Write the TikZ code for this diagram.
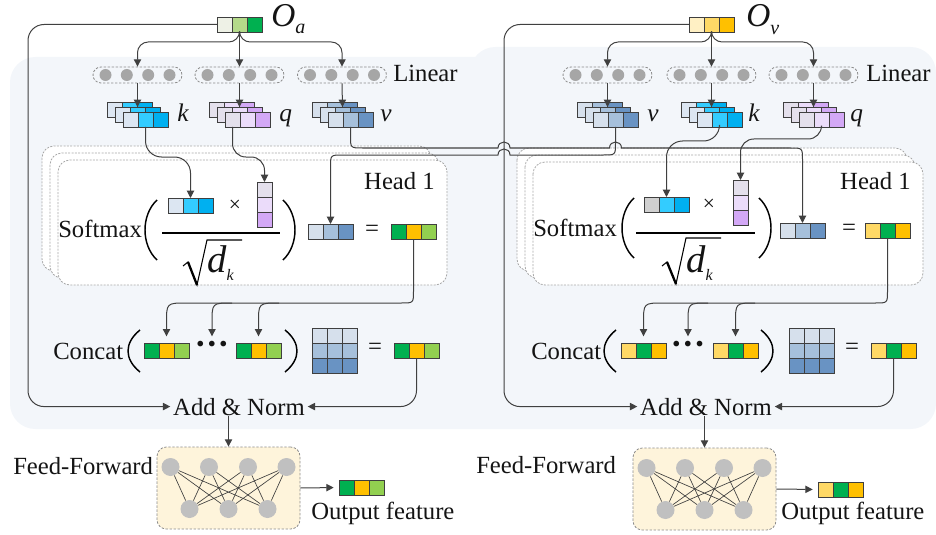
\documentclass[tikz,border=0pt]{standalone}
\usepackage{fontspec}
\setmainfont{Liberation Serif}
\usetikzlibrary{arrows.meta}
\definecolor{bgc}{HTML}{F3F6FA}
\definecolor{linec}{HTML}{404040}
\definecolor{cellb}{HTML}{3F3F3F}
\definecolor{kA}{HTML}{DCE6F2}
\definecolor{kB}{HTML}{33CCFF}
\definecolor{kC}{HTML}{00B0F0}
\definecolor{qA}{HTML}{E4E0EC}
\definecolor{qB}{HTML}{EBDCFA}
\definecolor{qC}{HTML}{D3A8F6}
\definecolor{vA}{HTML}{D6E0EC}
\definecolor{vB}{HTML}{A6C0DB}
\definecolor{vC}{HTML}{6993C3}
\definecolor{gA}{HTML}{00B050}
\definecolor{oA}{HTML}{FFC000}
\definecolor{lgA}{HTML}{92D050}
\definecolor{yA}{HTML}{FFD966}
\definecolor{oaA}{HTML}{EEF1E6}
\definecolor{oaB}{HTML}{B4DA8A}
\definecolor{ovA}{HTML}{FFF0C4}
\definecolor{kgray}{HTML}{D0D0D0}
\definecolor{dotc}{HTML}{A6A6A6}
\definecolor{ffc}{HTML}{FEF4DB}
\definecolor{ffdot}{HTML}{C0C0C0}
\definecolor{dashc}{HTML}{8C8C8C}
\definecolor{headc}{HTML}{A8A8A8}
\definecolor{txt}{HTML}{141414}
\tikzset{
 every node/.style={text=txt},
 conn/.style={draw=linec, line width=0.75pt},
 arr/.style={conn, -{Triangle[length=5.5pt,width=5.5pt]}},
 cell/.style={draw=cellb, line width=0.55pt, minimum width=11.25pt, minimum height=11.25pt, inner sep=0pt, outer sep=0pt},
 lin/.style={draw=dashc, line width=0.6pt, dash pattern=on 1.8pt off 1.2pt, rounded corners=6pt, minimum width=66.75pt, minimum height=12pt, inner sep=0pt},
 ldot/.style={circle, fill=dotc, minimum size=9pt, inner sep=0pt},
 fdot/.style={circle, fill=ffdot, minimum size=13.5pt, inner sep=0pt},
 ffbox/.style={draw=dashc, line width=0.6pt, dash pattern=on 1.8pt off 1.2pt, fill=ffc, rounded corners=7pt, minimum width=107.25pt, minimum height=61.5pt, inner sep=0pt},
 headbox/.style={draw=headc, line width=0.6pt, dash pattern=on 1.5pt off 1pt, fill=white, rounded corners=9pt},
 lbl/.style={font=\fontsize{18.5pt}{20pt}\selectfont, inner sep=0pt},
 dotsl/.style={font=\fontsize{26pt}{26pt}\selectfont\bfseries, inner sep=0pt},
 var/.style={font=\fontsize{19pt}{20pt}\selectfont\itshape, inner sep=0pt},
 bigO/.style={font=\fontsize{25pt}{26pt}\selectfont\itshape, inner sep=0pt},
 dk/.style={font=\fontsize{29pt}{30pt}\selectfont\itshape, inner sep=0pt},
 paren/.style={draw=black, line width=1.1pt},
 ffl/.style={draw=linec, line width=0.5pt},
}
\newcommand\vrow[6]{%
  \node[cell,fill=#4] (#1-1) at ({#2+7.5},{#3+7.5}) {};
  \node[cell,fill=#5] (#1-2) at ({#2+22.5},{#3+7.5}) {};
  \node[cell,fill=#6] (#1-3) at ({#2+37.5},{#3+7.5}) {};}
\newcommand\vcol[6]{%
  \node[cell,fill=#4] (#1-1) at ({#2+7.5},{#3+7.5}) {};
  \node[cell,fill=#5] (#1-2) at ({#2+7.5},{#3+22.5}) {};
  \node[cell,fill=#6] (#1-3) at ({#2+7.5},{#3+37.5}) {};}
\newcommand\vstack[6]{%
  \vrow{#1-b}{#2-16}{#3-10}{#4}{#5}{#6}
  \vrow{#1-m}{#2-8}{#3-5}{#4}{#5}{#6}
  \vrow{#1-f}{#2}{#3}{#4}{#5}{#6}}
\newcommand\linear[3]{%
  \node[lin] (#1) at (#2,#3) {};
  \foreach \k/\dx in {1/-32,2/-10.7,3/10.7,4/32} {\node[ldot] (#1-d\k) at ({#2+\dx},#3) {};}}
\newcommand\ffnet[3]{%
  \node[ffbox] (#1) at (#2,#3) {};
  \foreach \i/\dx in {1/-58,2/-19.5,3/19.5,4/58} {\node[fdot] (#1-t\i) at ({#2+\dx},{#3-21}) {};}
  \foreach \j/\dx in {1/-39,2/0,3/39} {\node[fdot] (#1-b\j) at ({#2+\dx},{#3+21}) {};}
  \foreach \i in {1,...,4} {\foreach \j in {1,2,3} {\draw[ffl] (#1-t\i) -- (#1-b\j);}}}
\newcommand\vmatrix[3]{%
  \vrow{#1-r1}{#2}{#3}{vA}{vA}{vA}
  \vrow{#1-r2}{#2}{#3+15}{vB}{vB}{vB}
  \vrow{#1-r3}{#2}{#3+30}{vC}{vC}{vC}}
\begin{document}
\begin{tikzpicture}[x=0.75pt,y=-0.75pt]
\useasboundingbox (0,0) rectangle (936,535);
% background panel
\fill[bgc, rounded corners=19pt] (10,57) rectangle (936,429);
\fill[bgc, rounded corners=19pt] (470,47) rectangle (936,120);
% head boxes
\draw[headbox] (42,146) rectangle (431,271);
\draw[headbox] (50,153) rectangle (439,278);
\draw[headbox] (58,160) rectangle (447,285);
\draw[headbox] (517,148) rectangle (907,271);
\draw[headbox] (525,155) rectangle (915,278);
\draw[headbox] (533,162) rectangle (923,285);

% ================= LEFT PANEL =================
\vrow{oa}{217}{17}{oaA}{oaB}{gA}
\node[bigO, anchor=base west] (Oa) at (271,27) {O\raisebox{-5pt}{\fontsize{15pt}{15pt}\selectfont a}};
\linear{la1}{137.5}{75}
\linear{la2}{239.5}{75}
\linear{la3}{342}{75}
\node[lbl, anchor=base west] (linA) at (393,82) {Linear};
\draw[arr, rounded corners=8pt] (oa-2.south) -- (239.5,42) -| (la1.north);
\draw[arr] (oa-2.south) -- (la2.north);
\draw[arr, rounded corners=8pt] (oa-2.south) -- (239.5,42) -| (la3.north);
\vstack{ka}{123}{112}{kA}{kB}{kC}
\vstack{qa}{225}{112}{qA}{qB}{qC}
\vstack{va}{328}{112}{vA}{vB}{vC}
\node[var, anchor=base west] (kla) at (177,122) {k};
\node[var, anchor=base west] (qla) at (279,122) {q};
\node[var, anchor=base west] (vla) at (380,122) {v};
\draw[arr] (la1.south) -- (ka-m-2.north);
\draw[arr] (la2.south) -- (qa-m-2.north);
\draw[arr] (la3.south) -- (va-m-2.north);
% head (left)
\node[lbl, anchor=base west] (softa) at (58,237) {Softmax};
\node[lbl, anchor=base east] (heada) at (435,189) {Head 1};
\vrow{nka}{168}{198}{kA}{kB}{kC}
\node[font=\fontsize{16pt}{16pt}\selectfont, inner sep=0pt] (xa) at (235,206) {×};
\vcol{nqa}{257}{182}{qA}{qB}{qC}
\draw[paren] (157,200) .. controls (141,215) and (141,245) .. (157,260);
\draw[paren] (283,200) .. controls (299,215) and (299,245) .. (283,260);
\draw[line width=1.1pt] (162,233) -- (280,233);
\draw[line width=0.8pt] (183,266) -- (188,262) -- (197,285) -- (207,240) -- (242,240);
\draw[line width=1.7pt] (188,262) -- (197,285);
\node[dk, anchor=base west] (dka) at (207,272) {d\raisebox{-6pt}{\fontsize{12pt}{12pt}\selectfont k}};
\vrow{nva}{308}{224}{vA}{vB}{vC}
\node[lbl] (eqa) at (372,231) {=};
\vrow{ra}{391}{224}{gA}{oA}{lgA}
\draw[arr, rounded corners=12pt] (ka-f-2.south) -- (145.5,157) -| (nka-2.north);
\draw[arr, rounded corners=10pt] (qa-f-1.south) -- (232.5,157) -| (nqa-1.north);
% concat (left)
\node[lbl, anchor=base west] (conca) at (53,359) {Concat};
\draw[paren] (140,330) .. controls (124,343) and (124,359) .. (140,372);
\draw[paren] (285,330) .. controls (301,343) and (301,359) .. (285,372);
\vrow{ca1}{144}{343}{gA}{oA}{lgA}
\node[dotsl] (dotsa) at (212,348) {···};
\vrow{ca2}{236}{343}{gA}{oA}{lgA}
\vmatrix{ma}{312}{328}
\node[lbl] (eqa2) at (375,349) {=};
\vrow{cca}{394}{343}{gA}{oA}{lgA}
\coordinate (bra) at (232,303);
\coordinate (brb) at (279,303);
\draw[arr, shorten >=5pt] (ra-2.south) -- (413.5,291) .. controls (413.5,303) .. (401.5,303) -- (186.5,303) .. controls (166.5,303) .. (166.5,323) -- (ca1-2.north);
\draw[arr, shorten >=5pt] (bra) .. controls (212,303) .. (212,323) -- (dotsa.center |- ca1-2.north);
\draw[arr, shorten >=5pt] (brb) .. controls (258.5,303) .. (258.5,323) -- (ca2-2.north);
% add & norm (left)
\node[lbl, anchor=base] (ana) at (239,415) {Add \& Norm};
\draw[arr, rounded corners=12pt, shorten >=2pt] (oa-1.west) -- (28,24.5) |- (ana.west);
\draw[arr, rounded corners=12pt, shorten >=2pt] (cca-2.south) |- (ana.east);
% feed forward (left)
\ffnet{ffa}{228.5}{488}
\draw[arr] (ffa.north |- ana.south) -- (ffa.north);
\node[lbl, anchor=base west] (ffla) at (13,474) {Feed-Forward};
\vrow{outa}{339}{480}{gA}{oA}{lgA}
\draw[arr, shorten >=4pt] (ffa.east) -- (outa-1.west);
\node[lbl, anchor=base west] (ofa) at (311,519) {Output feature};

% ================= RIGHT PANEL =================
\vrow{ov}{689}{17}{ovA}{yA}{oA}
\node[bigO, anchor=base west] (Ov) at (746,27) {O\raisebox{-6pt}{\fontsize{15pt}{15pt}\selectfont v}};
\linear{lv1}{607.5}{75}
\linear{lv2}{711.5}{75}
\linear{lv3}{813.5}{75}
\node[lbl, anchor=base west] (linV) at (866,82) {Linear};
\draw[arr, rounded corners=8pt] (ov-2.south) -- (711.5,42) -| (lv1.north);
\draw[arr] (ov-2.south) -- (lv2.north);
\draw[arr, rounded corners=8pt] (ov-2.south) -- (711.5,42) -| (lv3.north);
\vstack{vv}{593}{112}{vA}{vB}{vC}
\vstack{kv}{697}{112}{kA}{kB}{kC}
\vstack{qv}{799}{112}{qA}{qB}{qC}
\node[var, anchor=base west] (vlv) at (647,122) {v};
\node[var, anchor=base west] (klv) at (748,122) {k};
\node[var, anchor=base west] (qlv) at (850,122) {q};
\draw[arr] (lv1.south) -- (vv-m-2.north);
\draw[arr] (lv2.south) -- (kv-m-2.north);
\draw[arr] (lv3.south) -- (qv-m-2.north);
% head (right)
\node[lbl, anchor=base west] (softv) at (533,236) {Softmax};
\node[lbl, anchor=base east] (headv) at (911,189) {Head 1};
\vrow{nkv}{644}{197}{kgray}{kB}{kC}
\node[font=\fontsize{16pt}{16pt}\selectfont, inner sep=0pt] (xv) at (709,205) {×};
\vcol{nqv}{733}{180}{qA}{qB}{qC}
\draw[paren] (634,198) .. controls (618,213) and (618,243) .. (634,258);
\draw[paren] (759,198) .. controls (775,213) and (775,243) .. (759,258);
\draw[line width=1.1pt] (636,233) -- (755,233);
\draw[line width=0.8pt] (662,266) -- (667,262) -- (676,284) -- (686,238) -- (721,238);
\draw[line width=1.7pt] (667,262) -- (676,284);
\node[dk, anchor=base west] (dkv) at (686,272) {d\raisebox{-6pt}{\fontsize{12pt}{12pt}\selectfont k}};
\vrow{nvv}{780}{223}{vA}{vB}{vC}
\node[lbl] (eqv) at (849,230) {=};
\vrow{rv}{865}{223}{yA}{gA}{oA}
\draw[arr, rounded corners=12pt] (kv-f-2.south) -- (719.5,141) -| (nkv-2.north);
\draw[arr, rounded corners=10pt] (qv-f-2.south) -- (821.5,139) -| (nqv-1.north);
% crossing value paths
\draw[arr] (va-f-2.south) -- (350.5,136) .. controls (350.5,148) .. (362.5,148) -- (498,148) .. controls (498,140) and (510,140) .. (510,148) -- (609.5,148) .. controls (609.5,140) and (621.5,140) .. (621.5,148) -- (790.5,148) .. controls (802.5,148) .. (802.5,160) -- (nvv-2.north);
\draw[arr] (vv-f-2.south) -- (615.5,143) .. controls (615.5,155) .. (603.5,155) -- (510,155) .. controls (510,147) and (498,147) .. (498,155) -- (342.5,155) .. controls (330.5,155) .. (330.5,167) -- (nva-2.north);
% concat (right)
\node[lbl, anchor=base west] (concv) at (531,359) {Concat};
\draw[paren] (616,330) .. controls (600,343) and (600,359) .. (616,372);
\draw[paren] (761,330) .. controls (777,343) and (777,359) .. (761,372);
\vrow{cv1}{621}{343}{yA}{gA}{oA}
\node[dotsl] (dotsv) at (688,348) {···};
\vrow{cv2}{713}{343}{yA}{gA}{oA}
\vmatrix{mv}{789}{328}
\node[lbl] (eqv2) at (852,349) {=};
\vrow{ccv}{871}{343}{yA}{gA}{oA}
\coordinate (brva) at (708,303);
\coordinate (brvb) at (755,303);
\draw[arr, shorten >=5pt] (rv-2.south) -- (887.5,291) .. controls (887.5,303) .. (875.5,303) -- (663.5,303) .. controls (643.5,303) .. (643.5,323) -- (cv1-2.north);
\draw[arr, shorten >=5pt] (brva) .. controls (688,303) .. (688,323) -- (dotsv.center |- cv1-2.north);
\draw[arr, shorten >=5pt] (brvb) .. controls (735.5,303) .. (735.5,323) -- (cv2-2.north);
% add & norm (right)
\node[lbl, anchor=base] (anv) at (706,415) {Add \& Norm};
\draw[arr, rounded corners=12pt, shorten >=2pt] (ov-1.west) -- (504,24.5) |- (anv.west);
\draw[arr, rounded corners=12pt, shorten >=2pt] (ccv-2.south) |- (anv.east);
% feed forward (right)
\ffnet{ffv}{704.5}{489}
\draw[arr] (ffv.north |- anv.south) -- (ffv.north);
\node[lbl, anchor=base west] (fflv) at (476,473) {Feed-Forward};
\vrow{outv}{818}{482}{yA}{gA}{oA}
\draw[arr, shorten >=4pt] (ffv.east) -- (outv-1.west);
\node[lbl, anchor=base west] (ofv) at (781,519) {Output feature};
\end{tikzpicture}
\end{document}
